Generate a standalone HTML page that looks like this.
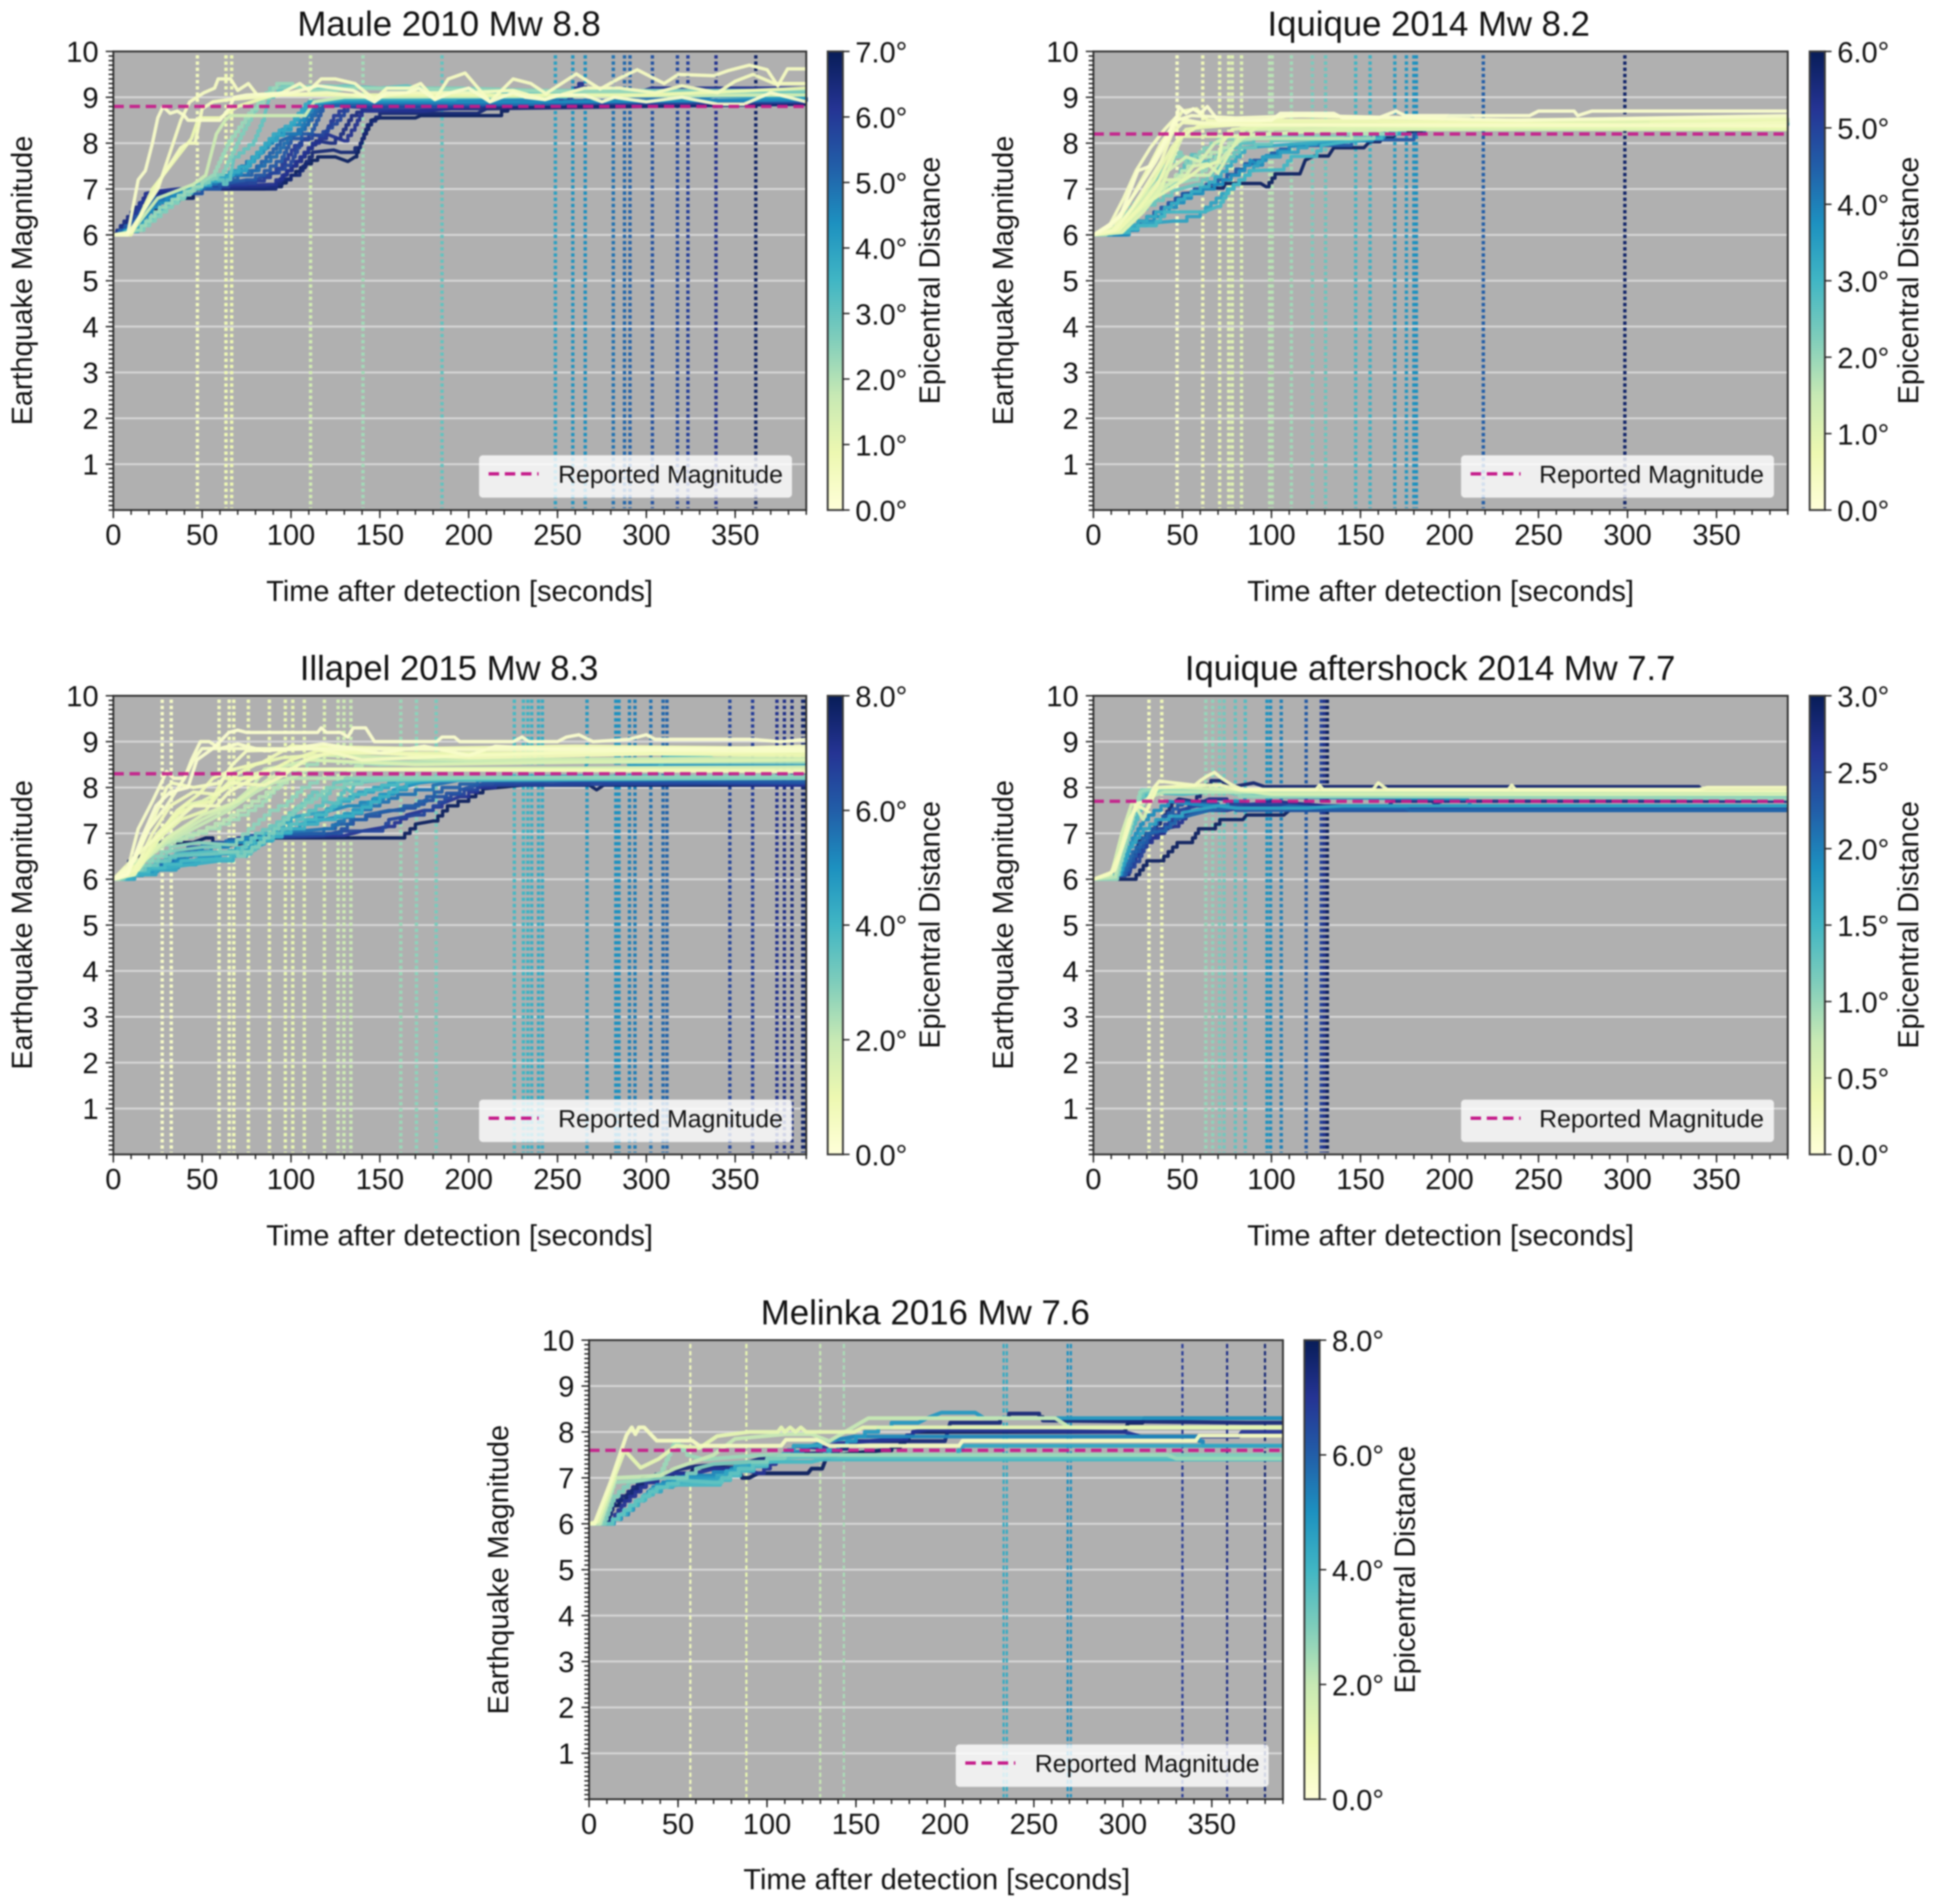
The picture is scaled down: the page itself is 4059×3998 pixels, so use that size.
<!DOCTYPE html>
<html lang="en">
<head>
<meta charset="utf-8">
<title>Earthquake magnitude estimates over time</title>
<style>
html,body{margin:0;padding:0;background:#fff;width:4059px;height:3998px;overflow:hidden}
svg{display:block;filter:blur(1.5px)}
text{font-family:"Liberation Sans",sans-serif;fill:#111}
.title{font-size:73px;text-anchor:middle}
.lab{font-size:61px;text-anchor:middle}
.tick{font-size:61px}
.leg{font-size:52px}
</style>
</head>
<body>
<svg xmlns="http://www.w3.org/2000/svg" width="4059" height="3998" viewBox="0 0 4059 3998">
<defs>
<linearGradient id="ylgnbu" x1="0" y1="1" x2="0" y2="0">
<stop offset="0" stop-color="#ffffd9"/><stop offset=".125" stop-color="#edf8b1"/><stop offset=".25" stop-color="#c7e9b4"/><stop offset=".375" stop-color="#7fcdbb"/><stop offset=".5" stop-color="#41b6c4"/><stop offset=".625" stop-color="#1d91c0"/><stop offset=".75" stop-color="#225ea8"/><stop offset=".875" stop-color="#253494"/><stop offset="1" stop-color="#081d58"/>
</linearGradient>
</defs>
<rect width="4059" height="3998" fill="#fff"/>

<g id="maule" transform="translate(238,108)">
<rect width="1455" height="963" fill="#b0b0b0"/>
<g class="marks"></g>
<rect x="768" y="848" width="657" height="89" rx="8" fill="#fff" fill-opacity=".8"/>
<line x1="788" x2="893" y1="887" y2="887" stroke="#c51b8a" stroke-width="7" stroke-dasharray="22 12"/>
<text class="leg" x="934" y="906" textLength="472" lengthAdjust="spacingAndGlyphs">Reported Magnitude</text>
<text class="title" x="705" y="-33" textLength="637" lengthAdjust="spacingAndGlyphs">Maule 2010 Mw 8.8</text>
<text class="lab" x="727" y="1154" textLength="812" lengthAdjust="spacingAndGlyphs">Time after detection [seconds]</text>
<text class="lab" transform="translate(-171,481) rotate(-90)" textLength="608" lengthAdjust="spacingAndGlyphs">Earthquake Magnitude</text>
<rect x="1500" y="0" width="32" height="963" fill="url(#ylgnbu)" stroke="#3a3a3a" stroke-width="4"/>
<text class="lab" transform="translate(1735,481) rotate(-90)" textLength="520" lengthAdjust="spacingAndGlyphs">Epicentral Distance</text>
</g>

<g id="iquique" transform="translate(2296,108)">
<rect width="1458" height="963" fill="#b0b0b0"/>
<g class="marks"></g>
<rect x="772" y="848" width="657" height="89" rx="8" fill="#fff" fill-opacity=".8"/>
<line x1="792" x2="897" y1="887" y2="887" stroke="#c51b8a" stroke-width="7" stroke-dasharray="22 12"/>
<text class="leg" x="936" y="906" textLength="472" lengthAdjust="spacingAndGlyphs">Reported Magnitude</text>
<text class="title" x="704" y="-33" textLength="677" lengthAdjust="spacingAndGlyphs">Iquique 2014 Mw 8.2</text>
<text class="lab" x="729" y="1154" textLength="812" lengthAdjust="spacingAndGlyphs">Time after detection [seconds]</text>
<text class="lab" transform="translate(-169,481) rotate(-90)" textLength="608" lengthAdjust="spacingAndGlyphs">Earthquake Magnitude</text>
<rect x="1504" y="0" width="32" height="963" fill="url(#ylgnbu)" stroke="#3a3a3a" stroke-width="4"/>
<text class="lab" transform="translate(1732,481) rotate(-90)" textLength="520" lengthAdjust="spacingAndGlyphs">Epicentral Distance</text>
</g>

<g id="illapel" transform="translate(238,1461)">
<rect width="1455" height="963" fill="#b0b0b0"/>
<g class="marks"></g>
<rect x="768" y="848" width="657" height="89" rx="8" fill="#fff" fill-opacity=".8"/>
<line x1="788" x2="893" y1="887" y2="887" stroke="#c51b8a" stroke-width="7" stroke-dasharray="22 12"/>
<text class="leg" x="934" y="906" textLength="472" lengthAdjust="spacingAndGlyphs">Reported Magnitude</text>
<text class="title" x="705" y="-33" textLength="627" lengthAdjust="spacingAndGlyphs">Illapel 2015 Mw 8.3</text>
<text class="lab" x="727" y="1154" textLength="812" lengthAdjust="spacingAndGlyphs">Time after detection [seconds]</text>
<text class="lab" transform="translate(-171,481) rotate(-90)" textLength="608" lengthAdjust="spacingAndGlyphs">Earthquake Magnitude</text>
<rect x="1500" y="0" width="32" height="963" fill="url(#ylgnbu)" stroke="#3a3a3a" stroke-width="4"/>
<text class="lab" transform="translate(1735,481) rotate(-90)" textLength="520" lengthAdjust="spacingAndGlyphs">Epicentral Distance</text>
</g>

<g id="aftershock" transform="translate(2296,1461)">
<rect width="1458" height="963" fill="#b0b0b0"/>
<g class="marks"></g>
<rect x="772" y="848" width="657" height="89" rx="8" fill="#fff" fill-opacity=".8"/>
<line x1="792" x2="897" y1="887" y2="887" stroke="#c51b8a" stroke-width="7" stroke-dasharray="22 12"/>
<text class="leg" x="936" y="906" textLength="472" lengthAdjust="spacingAndGlyphs">Reported Magnitude</text>
<text class="title" x="707" y="-33" textLength="1030" lengthAdjust="spacingAndGlyphs">Iquique aftershock 2014 Mw 7.7</text>
<text class="lab" x="729" y="1154" textLength="812" lengthAdjust="spacingAndGlyphs">Time after detection [seconds]</text>
<text class="lab" transform="translate(-169,481) rotate(-90)" textLength="608" lengthAdjust="spacingAndGlyphs">Earthquake Magnitude</text>
<rect x="1504" y="0" width="32" height="963" fill="url(#ylgnbu)" stroke="#3a3a3a" stroke-width="4"/>
<text class="lab" transform="translate(1732,481) rotate(-90)" textLength="520" lengthAdjust="spacingAndGlyphs">Epicentral Distance</text>
</g>

<g id="melinka" transform="translate(1237,2814)">
<rect width="1457" height="964" fill="#b0b0b0"/>
<g class="marks"></g>
<rect x="770" y="849" width="657" height="89" rx="8" fill="#fff" fill-opacity=".8"/>
<line x1="790" x2="895" y1="888" y2="888" stroke="#c51b8a" stroke-width="7" stroke-dasharray="22 12"/>
<text class="leg" x="936" y="907" textLength="472" lengthAdjust="spacingAndGlyphs">Reported Magnitude</text>
<text class="title" x="706" y="-33" textLength="691" lengthAdjust="spacingAndGlyphs">Melinka 2016 Mw 7.6</text>
<text class="lab" x="730" y="1153" textLength="812" lengthAdjust="spacingAndGlyphs">Time after detection [seconds]</text>
<text class="lab" transform="translate(-170,482) rotate(-90)" textLength="608" lengthAdjust="spacingAndGlyphs">Earthquake Magnitude</text>
<rect x="1502" y="0" width="32" height="964" fill="url(#ylgnbu)" stroke="#3a3a3a" stroke-width="4"/>
<text class="lab" transform="translate(1734,482) rotate(-90)" textLength="520" lengthAdjust="spacingAndGlyphs">Epicentral Distance</text>
</g>
</svg>

<script>
const xTickValues = [0,50,100,150,200,250,300,350];
const yTickValues = [1,2,3,4,5,6,7,8,9,10];

const mauleReported = 8.8;
const mauleMaxDist = 7;
const mauleCbarTicks = [0,1,2,3,4,5,6,7];
const mauleStationTimes = [47.3,63.4,66.6,111,140.5,185,248.8,258.6,265.6,281.4,287.7,290.8,303.4,317.5,323.4,339.2,361.6];
const mauleStationDist = [0.6,0.8,0.85,1.5,2.2,3.0,4.0,4.3,4.4,4.9,5.1,5.2,5.5,5.7,5.9,6.2,6.8];
const mauleCurveDist = [6.9,6.6,6.2,5.8,5.4,5,4.5,4,3,2.3,1.6,0.35,0.5,0.6,6.4,6,5.2,4.8,3.8,2.6,0.9];
const mauleCurves = [
[0,6,5,6.1,10,6.3,18,6.5,30,6.7,40,6.8,50,7,85,7,92,7.05,100,7.3,108,7.55,115,7.7,125,7.7,132,7.6,136,7.7,140,8.1,145,8.5,150,8.55,170,8.55,173,8.6,215,8.6,222,8.8,390,8.85],
[0,6,5,6.2,10,6.4,16,6.5,22,6.9,36,6.9,50,7,88,7,95,7.2,105,7.4,112,7.8,124,7.85,128,7.8,133,7.8,139,8,143,8.4,150,8.65,205,8.65,210,8.75,390,8.85],
[0,6,8,6.2,13,6.5,18,6.9,24,6.95,36,7,55,7.05,88,7.1,95,7.3,105,7.7,112,8,120,8.2,130,8.05,136,8.4,140,8.7,175,8.7,200,8.8,240,8.85,256,9,262,9.3,268,9.05,295,9.1,303,9.2,390,9.2],
[0,6,10,6.2,16,6.6,22,6.8,32,6.9,50,7.05,80,7.2,90,7.35,100,7.6,106,8.1,118,8.25,126,8.5,132,8.8,150,8.75,230,8.85,390,8.9],
[0,6,10,6.3,15,6.5,24,6.8,40,6.9,60,7.1,75,7.2,85,7.4,95,7.7,100,8.1,112,8.3,118,8.8,140,8.85,200,8.85,390,8.95],
[0,6,12,6.2,20,6.7,35,6.95,55,7.15,70,7.3,82,7.5,92,7.8,100,8.2,108,8.4,115,8.85,130,8.9,230,8.85,250,9,270,9.05,300,9,330,8.95,340,9.05,390,9],
[0,6,13,6.2,22,6.6,38,7,60,7.25,72,7.4,82,7.8,95,8.3,105,8.5,112,8.85,125,8.9,250,8.9,390,8.95],
[0,6,14,6.2,25,6.5,42,7,60,7.3,75,7.5,88,8.05,100,8.4,110,8.9,130,8.95,190,8.95,195,9.1,270,9.05,390,9],
[0,6,13,6.1,25,6.5,44,7,56,7.3,62,7.1,66,7.3,68,7.7,79,8.05,85,8.6,88,9,95,9.25,115,9.2,130,9.25,150,9.2,165,9.25,180,9.15,300,9.1,390,9.1],
[0,6,13,6.1,26,6.6,40,6.95,50,7.15,56,7.3,65,8.05,78,8.75,88,9.1,92,9.3,110,9.15,125,9.15,135,9.2,390,9.05],
[0,6,10,6.05,25,6.8,45,7.1,52,7.3,58,8.2,63,8.5,66,8.6,78,8.6,85,8.6,108,8.6,113,8.9,130,9,390,9.05],
[0,6,8,6,12,6.8,14,7.2,18,7.4,22,8,25,8.55,28,8.8,32,8.65,36,8.7,40,8.6,42,8.5,60,8.5,65,8.75,68,9,75,9.05,100,9.1,110,9.2,115,9.25,125,9.2,135,9.15,147,8.9,154,9.1,165,9.1,172,9.2,181,8.95,190,9.1,200,9.2,212,8.9,225,9.1,232,9,243,8.95,250,9.05,265,9.05,275,8.9,282,9,300,8.9,320,9,340,8.85,355,8.85,370,9.1,390,8.9],
[0,6,8,6,25,7,38,8.5,43,8.9,51,9.1,57,9.2,59,9.4,66,9.4,70,9.15,76,9.3,81,9.05,88,9.05,95,9.1,105,9.3,110,9.15,117,9.4,125,9.4,136,9.3,147,8.95,154,9.2,167,9.2,173,9.3,181,8.95,188.5,9.4,198,9.53,212,8.9,225,9.4,235,9.3,243.5,9.08,260.6,9.51,274,9.18,284.6,9.41,294.9,9.6,310,9.3,318,9.5,338,9.47,346,9.58,358,9.7,368,9.6,374,9.25,379.5,9.62,390,9.62],
[0,6,10,6.05,28,7.3,38,7.9,42,8,46,8,50,8.75,56,8.9,65,8.95,80,9,95,9.05,120,9.1,147,9,165,9.1,200,9.1,225,9.15,243,8.95,265,9.2,285,9.2,305,9.1,320,9.25,340,9.1,350,9.35,360,9.5,372,9.3,390,9.3],
[0,6,6,6.3,12,6.6,20,6.9,34,6.95,48,7,90,7.05,98,7.4,106,7.7,114,8.05,122,8,128,8.2,134,8.6,140,8.75,170,8.7,190,8.75,230,8.9,390,8.9],
[0,6,9,6.25,15,6.7,25,6.85,40,7,65,7.1,85,7.25,95,7.55,102,7.95,110,8.2,118,8.15,124,8.6,130,8.8,390,8.95],
[0,6,12,6.3,22,6.8,40,7,62,7.2,78,7.4,86,7.7,94,8.05,104,8.2,112,8.6,118,8.85,390,9],
[0,6,12,6.2,24,6.75,38,6.95,58,7.2,72,7.5,84,7.9,92,8.2,104,8.2,110,8.7,114,8.9,240,8.95,250,9.15,300,9.1,390,9],
[0,6,14,6.15,26,6.55,44,7,60,7.25,76,7.6,90,8.2,100,8.45,108,8.85,130,8.95,240,9,270,9.15,330,9.1,390,9.05],
[0,6,14,6.1,30,6.6,46,7.05,62,7.4,72,8.2,82,8.9,88,9.2,120,9.25,140,9.2,195,9.2,240,9.15,390,9.15],
[0,6,10,6,22,7,34,7.6,44,8.1,48,8.55,60,8.55,70,8.8,90,9.05,300,9.05,390,9.2]
];

const iquiqueReported = 8.2;
const iquiqueMaxDist = 6;
const iquiqueCbarTicks = [0,1,2,3,4,5,6];
const iquiqueStationTimes = [47,61.4,70.9,76,78,83.2,99,100.4,111.2,123,130.4,147.3,155.4,169.3,175.8,180,181.4,219,298.5];
const iquiqueStationDist = [0.4,0.6,0.8,0.95,1,1.05,1.6,1.65,1.9,2.3,2.5,3,3.1,3.5,3.6,3.7,3.75,4.5,5.8];
const iquiqueCurveDist = [5.9,4.6,3.8,3.4,3,2.7,2.2,1.3,1.1,1,0.9,0.7,0.5,0.3,0.2,0.6,0.4,0.8,1.2,1.6,2,2.5,3.2];
const iquiqueCurves = [
[0,6,12,6,25,6.3,40,6.6,50,6.9,60,6.92,62,7.02,73,7.02,74,7.12,94,7.12,97,7.05,102,7.33,116,7.33,119,7.63,124,7.72,132,7.72,135,7.9,152,7.9,155,8.03,161,8.03,162,8.13,168,8.13,171,8.25,200,8.4,390,8.4],
[0,6,15,6,30,6.4,50,6.9,70,7.2,85,7.55,95,7.7,110,7.95,180,8.2,198,8.5,200,8.6,212,8.6,214,8.5,390,8.45],
[0,6,15,6,30,6.3,55,6.9,68,7.1,82,7.4,88,7.63,93,7.52,97,7.73,110,7.93,150,8.05,170,8.3,390,8.45],
[0,6,20,6.15,30,6.25,45,6.3,60,6.5,72,6.9,85,7.3,95,7.7,115,7.9,125,8.05,150,8.1,175,8.3,235,8.35,245,8.45,390,8.45],
[0,6,15,6.05,25,6.2,33,6.2,40,6.5,62,6.5,70,6.62,76,7,88,7.4,105,7.42,111,7.71,123,7.71,128,7.95,142,8.03,155,8.1,175,8.35,390,8.5],
[0,6,15,6.2,30,6.7,45,7.2,55,7.75,60,7.6,75,7.9,90,8.1,145,8.12,160,8.3,390,8.5],
[0,6,10,6.1,25,6.8,40,7.5,48,7.8,52,7.55,62,7.9,70,8.1,120,8.15,160,8.3,390,8.35],
[0,6,16,6.1,35,6.9,50,7.3,65,7.3,75,7.8,85,8.15,150,8.35,390,8.4],
[0,6,15,6.2,32,6.8,40,7.2,50,7.2,56,7.5,64,7.55,70,7.35,78,7.9,85,8.3,200,8.35,390,8.3],
[0,6,16,6.05,28,6.5,38,7,46,7.8,50,8.15,85,8.15,92,8.35,130,8.4,390,8.35],
[0,6,14,6.1,30,6.7,45,7.05,55,7.3,60,7.45,70,7.6,72,8,78,8.3,100,8.4,390,8.3],
[0,6,14,6.1,26,6.6,36,7.1,42,7.6,48,8.1,60,8.4,100,8.5,150,8.5,200,8.45,390,8.35],
[0,6,12,6.1,22,6.6,30,7.1,38,7.6,44,8.2,50,8.45,70,8.4,300,8.4,390,8.45],
[0,6,10,6.2,18,6.6,25,7,35,7.6,42,8.1,47,8.5,55,8.6,80,8.55,120,8.6,240,8.5,390,8.6],
[0,6,8,6.2,15,6.4,20,6.9,25,7.4,32,7.5,38,7.9,42,8.2,47,8.6,48,8.8,52,8.65,56,8.75,60,8.65,64,8.8,70,8.5,100,8.5,105,8.65,135,8.65,140,8.55,160,8.55,170,8.7,175,8.6,245,8.6,250,8.7,270,8.7,272,8.6,280,8.7,390,8.7],
[0,6,11,6.1,20,6.7,30,7.4,38,8,45,8.4,50,8.7,58,8.75,64,8.5,90,8.45,110,8.6,170,8.55,210,8.5,390,8.55],
[0,6,9,6.2,17,6.8,24,7.4,32,7.9,40,8.3,46,8.55,60,8.45,85,8.4,390,8.38],
[0,6,13,6.1,24,6.7,34,7.2,44,7.9,52,8.3,62,8.35,100,8.45,240,8.45,390,8.5],
[0,6,14,6.1,28,6.8,42,7.4,52,7.7,60,7.6,68,8,76,8.15,120,8.25,180,8.3,390,8.3],
[0,6,15,6.1,30,6.8,46,7.3,60,7.7,72,7.9,80,8.1,130,8.1,160,8.3,390,8.55],
[0,6,14,6.2,30,6.8,44,7.1,56,7.2,66,7.6,76,8,90,8.1,150,8.1,165,8.3,390,8.4],
[0,6,15,6.1,30,6.65,44,6.95,58,7.1,70,7.5,82,7.9,100,8.05,140,8.1,170,8.3,240,8.4,245,8.5,390,8.55],
[0,6,15,6.05,25,6.3,40,6.6,55,6.95,65,7.15,75,7.5,85,7.9,120,8,140,8.1,170,8.3,390,8.45]
];

const illapelReported = 8.3;
const illapelMaxDist = 8;
const illapelCbarTicks = [0,2,4,6,8];
const illapelStationTimes = [27.5,32.6,59.5,65.2,67.8,76,87.8,96.8,101,107.5,118.8,126.5,129.8,133.7,161.8,170.6,181.7,225.7,230.8,233.3,235.5,239.3,241.5,266.6,282.8,284.6,290.5,293.6,302.5,309.4,311.6,347,359.8,373.5,377.7,382,388,389.3];
const illapelStationDist = [0.4,0.45,0.7,0.75,0.8,0.9,1,1.1,1.1,1.2,1.4,1.7,1.8,1.9,2.6,2.8,3.1,3.9,4,4.1,4.2,4.3,4.3,4.8,5,5,5.3,5.4,5.6,5.8,5.9,6.6,6.8,7.1,7.2,7.3,7.6,7.7];
const illapelCurveDist = [7.9,7,6.3,5.6,4.8,4.2,3.6,3,2.5,2,1.5,1.2,1,0.8,0.7,0.6,0.45,0.4,0.3,6.6,6,5.2,4.5,3.9,3.3,2.8,2.2,1.8,1.1,0.9];
const illapelCurves = [
[0,6,5,6.1,10,6.5,15,6.5,22,6.8,45,6.8,52,6.9,60,6.7,75,6.8,90,6.9,148,6.9,161,6.9,170,7.2,180,7.27,188,7.6,200,7.8,208,7.97,231,8.05,268,8.05,272,7.95,276,8.05,390,8.05],
[0,6,15,6.2,40,6.6,70,6.9,130,6.95,140,7.05,155,7.15,165,7.4,175,7.5,185,7.65,195,7.8,205,8,225,8.15,390,8.05],
[0,6,20,6.3,45,6.7,75,6.95,125,7,135,7.3,150,7.45,165,7.55,180,7.8,195,7.95,210,8.1,260,8.15,390,8.1],
[0,6,22,6.3,50,6.75,90,7,120,7.1,130,7.35,145,7.6,160,7.85,180,8.05,200,8.2,390,8.2],
[0,6,25,6.25,60,6.6,78,6.75,95,7,105,7.2,125,7.35,140,7.6,150,7.85,165,8.05,185,8.2,265,8.25,268,8.85,285,8.85,290,8.5,390,8.5],
[0,6,20,6.2,40,6.3,60,6.4,75,6.6,85,6.85,100,7.1,115,7.3,135,7.45,150,7.8,165,8.1,180,8.2,305,8.25,310,8.7,335,8.7,340,8.55,345,8.6,375,8.6,390,8.55],
[0,6,18,6.3,35,6.55,55,6.6,75,6.55,85,6.9,100,7.2,110,7.5,118,7.7,125,7.65,130,8,134,7.9,136,8.1,160,8.2,390,8.2],
[0,6,16,6.3,30,6.6,50,6.7,70,6.5,82,6.8,96,7.3,104,7.6,112,7.75,120,8,140,8.15,200,8.2,390,8.2],
[0,6,12,6.4,25,6.75,45,7,60,7.2,76,7.5,84,7.7,95,8.15,100,8.2,103,8.4,115,8.6,150,8.5,200,8.55,390,8.55],
[0,6,14,6.3,30,6.8,50,7.2,65,7.5,80,7.9,90,8.1,100,8.2,110,8.4,390,8.45],
[0,6,15,6.3,30,6.9,50,7.4,70,7.7,88,8.2,110,8.6,170,8.5,260,8.55,390,8.6],
[0,6,14,6.2,28,7,40,7.6,50,7.7,60,7.9,75,8.25,90,8.4,390,8.4],
[0,6,13,6.3,25,7,35,7.4,45,7.6,55,7.7,62,8.2,80,8.2,90,8.4,100,8.6,115,8.8,180,8.7,250,8.75,390,8.7],
[0,6,12,6.2,22,7,32,7.6,45,7.9,58,7.85,66,8.1,85,8.05,95,8.25,108,8.6,125,8.8,200,8.65,390,8.8],
[0,6,15,6.6,30,7.1,45,7.6,58,7.6,65,7.9,88,8.4,390,8.35],
[0,6,12,6.4,20,7.1,27,7.7,30,8,33,8.1,45,8,60,8.1,67,8.5,75,8.8,115,8.85,125,8.75,140,8.6,200,8.7,390,8.9],
[0,6,10,6.3,20,7.1,30,7.6,40,8.2,45,8.6,50,8.85,60,8.85,390,8.8],
[0,6,8,6.2,14,7.1,22,7.7,27,8.1,30,8.35,34,8.2,40,8.2,44,8.6,49,9,54,9,60,8.85,70,8.95,85,8.8,100,8.85,118,8.95,135,8.85,150,8.75,175,8.9,200,8.7,215,8.9,240,8.85,390,8.85],
[0,6,8,6.1,16,6.9,24,7.6,32,7.9,42,8,47,8.6,56,8.85,60,9,65,9.2,70,9.25,75,9.2,115,9.2,117,9.3,120,9.2,128,9.2,132,9.1,135,9.3,142,9.3,147,9,182,9,185,9.1,192,9.1,195,9,225,9,230,9.1,234,9,250,9,255,9.1,262,9.15,270,9,290,9.05,300,9.15,305,9.05,360,9.05,375,9,390,9.05],
[0,6,18,6.3,42,6.7,72,6.9,118,6.95,128,7.05,150,7.05,155,7.3,170,7.4,180,7.6,190,7.85,205,8.05,390,8.1],
[0,6,20,6.2,50,6.7,80,6.95,112,7,125,7.2,142,7.4,155,7.5,172,7.7,185,8,205,8.15,390,8.15],
[0,6,22,6.25,55,6.7,84,7,105,7.2,118,7.45,132,7.6,146,7.75,158,7.95,172,8.1,195,8.2,390,8.2],
[0,6,24,6.2,58,6.55,72,6.7,88,7,100,7.35,116,7.45,128,7.7,138,7.9,155,8.1,175,8.2,390,8.25],
[0,6,20,6.25,38,6.4,62,6.45,74,6.8,90,7.1,108,7.3,120,7.5,128,7.75,142,7.95,160,8.15,390,8.2],
[0,6,18,6.3,32,6.5,56,6.55,70,6.6,80,7,92,7.25,106,7.65,112,7.9,118,7.75,124,8.1,140,8.2,390,8.2],
[0,6,17,6.4,32,6.7,48,6.8,66,6.75,76,7.1,88,7.5,98,7.7,106,8,115,8.2,390,8.25],
[0,6,13,6.4,28,6.8,48,7.05,62,7.3,74,7.6,86,7.9,98,8.2,125,8.2,140,8.55,390,8.6],
[0,6,14,6.35,30,6.85,50,7.3,66,7.6,78,8,85,8.4,100,8.5,118,8.7,200,8.6,390,8.65],
[0,6,13,6.2,26,6.9,38,7.3,52,7.5,62,8,70,8.3,80,8.5,95,8.65,130,8.75,390,8.75],
[0,6,12,6.1,24,6.9,36,7.5,48,7.85,56,8.2,68,8.4,84,8.55,100,8.9,170,8.85,260,8.9,390,8.85]
];

const aftershockReported = 7.7;
const aftershockMaxDist = 3;
const aftershockCbarTicks = [0,0.5,1,1.5,2,2.5,3];
const aftershockStationTimes = [31.2,38.4,63.1,67,70.8,73.4,79.7,85.3,97.5,99.5,105.5,119.5,128,129.7,131.4];
const aftershockStationDist = [0.25,0.3,1,1.05,1.15,1.2,1.3,1.4,1.85,1.9,2,2.3,2.5,2.7,2.95];
const aftershockCurveDist = [2.95,2.85,2.7,2.2,1.7,1.4,1.2,1,0.6,0.3,0.25,2.5,2.3,1.9,1.5,1.1,0.8,2.65];
const aftershockCurves = [
[0,6,15,6,22,6,30,6.4,37,6.4,42,6.6,47,6.8,54,6.8,59,7.1,66,7.1,71,7.3,84,7.3,86,7.4,107,7.4,110,7.5,390,7.5],
[0,6,20,6.2,26,6.9,33,7.1,40,7.4,44,7.65,48,7.75,56,7.7,60,7.9,66,8.15,70,8.15,76,8,90,8.1,96,8.02,340,8.02,342,7.95,390,7.95],
[0,6,18,6.1,28,6.8,35,7,42,7.2,50,7.35,55,7.7,62,7.7,65,7.75,85,7.6,100,7.7,130,7.6,166,7.6,168,7.7,190,7.7,192,7.65,196,7.7,390,7.7],
[0,6,16,6.1,22,6.6,30,7,38,7.05,46,7.3,55,7.4,65,7.5,80,7.55,105,7.55,110,7.6,130,7.55,175,7.55,178,7.5,390,7.5],
[0,6,14,6.1,20,6.7,28,7.1,35,7.3,50,7.45,70,7.6,80,7.55,120,7.55,140,7.6,390,7.6],
[0,6,13,6.1,20,7,25,7.4,30,7.9,50,7.85,65,7.9,76,7.9,85,7.85,100,7.85,130,7.85,210,7.8,212,7.85,390,7.8],
[0,6,13,6,18,6.9,24,7.6,28,7.9,55,7.9,70,7.95,80,7.85,140,7.85,210,7.8,390,7.8],
[0,6,12,6,16,6.5,21,7.2,26,7.9,30,7.95,78,7.95,82,7.8,210,7.8,390,7.75],
[0,6,10,6.1,16,7,22,7.7,28,7.3,32,7.7,36,8,50,8,80,7.95,100,7.85,390,7.85],
[0,6,10,6.15,15,6.6,20,7.3,25,7.6,30,7.5,36,8,60,8.05,72,8.05,82,7.95,390,7.93],
[0,6,8,6.1,12,6.2,18,6.9,24,7.65,30,7.7,34,8,37,8.14,57,8.05,60,8.15,64,8.25,68,8.33,72,8.2,78,8.05,84,7.96,125,7.96,127,8.05,129,7.96,157,7.96,160,8.1,165,7.96,233,7.96,235,8.05,237,7.96,340,7.96,345,8,390,8],
[0,6,18,6.15,26,6.5,32,7,40,7.2,48,7.5,58,7.6,75,7.6,95,7.65,130,7.55,390,7.55],
[0,6,17,6.1,24,6.6,30,6.9,36,7.3,42,7.45,50,7.7,60,7.65,80,7.5,140,7.5,390,7.5],
[0,6,15,6.1,22,6.9,28,7.3,34,7.5,42,7.7,52,7.65,66,7.6,85,7.8,210,7.75,212,7.6,390,7.6],
[0,6,14,6.1,19,6.9,25,7.6,28,7.8,32,7.9,85,7.9,100,7.8,212,7.8,390,7.8],
[0,6,13,6,17,6.7,23,7.5,27,7.95,80,7.9,90,7.8,390,7.82],
[0,6,12,6.05,16,6.8,20,7.4,24,7.55,28,7.7,32,7.8,40,7.9,100,7.9,390,7.9],
[0,6,19,6.2,27,6.7,33,6.9,40,7.1,46,7.15,52,7.4,60,7.5,75,7.5,88,7.6,137,7.6,390,7.6]
];

const melinkaReported = 7.6;
const melinkaMaxDist = 8;
const melinkaCbarTicks = [0,2,4,6,8];
const melinkaStationTimes = [56.9,88.4,129.9,143.2,233,234.8,269,270.8,333.5,358.6,379.9];
const melinkaStationDist = [0.7,1.1,2,2.4,4.3,4.3,5,5,6.9,7.2,7.5];
const melinkaCurveDist = [7.9,7.5,7,5.2,4.8,4.4,3.9,3.5,2.6,2,1.2,0.6,3];
const melinkaCurves = [
[0,6,10,6,13,6.4,21,6.62,30,6.93,47,7.1,57,7.1,59,7.22,84,7.22,86,7,90,7,95,7.1,123,7.1,125,7.2,131,7.2,133,7.4,140,7.5,165,7.6,175,7.75,182,8,301,8,303,8.2,311,8.2,312,8.3,390,8.3],
[0,6,10,6,14,6.5,22,6.7,30,7,45,7.15,60,7.25,75,7.3,90,7.35,100,7.45,110,7.5,135,7.55,150,7.8,200,7.8,203,8.2,226,8.2,236,8.4,251,8.4,255,8.25,370,8.2,390,8.2],
[0,6,11,6,20,6.5,32,6.9,45,7.1,60,7.1,70,7.2,85,7.2,95,7.1,105,7.4,115,7.7,130,7.65,140,7.75,175,7.85,182,8,190,8.05,301,8,310,7.9,365,7.9,367,8,390,8],
[0,6,10,6,22,6.3,36,6.8,47,7,60,7.05,80,7.2,100,7.4,120,7.65,135,7.8,149,7.9,341,7.9,345,7.7,390,7.7],
[0,6,10,6,24,6.4,38,6.85,50,7,70,7,90,7.3,110,7.5,125,7.5,140,7.7,155,8,170,8.2,185,8.2,190,8.3,198,8.42,217,8.42,222,8.3,390,8.3],
[0,6,10,6,21,6.3,34,6.7,47,6.9,67,6.95,82,7.25,103,7.35,115,7.7,125,7.7,135,7.5,205,7.5,210,7.7,390,7.7],
[0,6,10,6,23,6.4,36,6.75,50,6.85,68,6.85,85,7.15,100,7.35,125,7.35,131,7.4,390,7.4],
[0,6,10,6,26,6.5,38,6.8,50,6.95,70,6.9,84,7.2,100,7.4,118,7.45,131,7.45,390,7.45],
[0,6,6,6,14,6.9,30,6.95,40,7.1,48,7.8,55,7.5,65,7.4,80,7.45,100,7.5,325,7.5,330,7.42,390,7.42],
[0,6,6,6,15,7,40,7.05,48,7.2,70,7.5,82,7.85,110,7.95,125,7.95,135,7.8,157,8.3,262,8.3,270,8.1,390,8.1],
[0,6,5,6.05,15,7.1,20,7.6,29,7.22,39,7.41,49,7.7,62,7.65,72,7.91,90,8,106,8,108,8.1,110,8,113,8.1,116,8,119,8.1,122,8,149,8,154,8.1,390,8.1],
[0,6,3,6,12,6.9,21,7.93,24,8.1,26,7.95,28,8.1,31,8.1,38,7.81,58,7.81,62,7.7,108,7.7,110.6,7.83,128,7.83,135,7.7,208,7.7,210,7.81,341,7.81,343,7.92,390,7.92],
[0,6,8,6,14,6.6,22,6.9,40,7,50,7,60,7.2,70,7.3,90,7.35,110,7.5,390,7.5]
];

const stops = [[255,255,217],[237,248,177],[199,233,180],[127,205,187],[65,182,196],[29,145,192],[34,94,168],[37,52,148],[8,29,88]];
const SVGNS = 'http://www.w3.org/2000/svg';
const XMAX = 390;
const YMAX = 10;

function colorFor(frac) {
  const p = Math.max(0, Math.min(1, frac)) * (stops.length - 1);
  const i = Math.min(stops.length - 2, Math.floor(p));
  const f = p - i;
  const c = stops[i].map((v, k) => Math.round(v + (stops[i + 1][k] - v) * f));
  return 'rgb(' + c.join(',') + ')';
}

function make(parent, tag, attrs, text) {
  const e = document.createElementNS(SVGNS, tag);
  for (const k in attrs) e.setAttribute(k, attrs[k]);
  if (text !== undefined) e.textContent = text;
  parent.appendChild(e);
  return e;
}

/* Magnitude estimates update in 0.1 increments, so rising stretches are drawn as stairs. */
function stairPoints(c, stepped, x, y) {
  const pts = [];
  for (let k = 0; k < c.length; k += 2) {
    if (stepped && k > 0) {
      const t0 = c[k - 2], m0 = c[k - 1], t1 = c[k], m1 = c[k + 1];
      const n = Math.round(Math.abs(m1 - m0) / 0.1);
      if (n > 1 && t1 - t0 > 3) {
        for (let s = 1; s < n; s++) {
          const ts = t0 + (t1 - t0) * s / n;
          pts.push(x(ts).toFixed(1) + ',' + y(m0 + (m1 - m0) * (s - 1) / n).toFixed(1));
          pts.push(x(ts).toFixed(1) + ',' + y(m0 + (m1 - m0) * s / n).toFixed(1));
        }
        pts.push(x(t1).toFixed(1) + ',' + y(m0 + (m1 - m0) * (n - 1) / n).toFixed(1));
      }
    }
    pts.push(x(c[k]).toFixed(1) + ',' + y(c[k + 1]).toFixed(1));
  }
  return pts.join(' ');
}

function drawPanel(id, W, H, opts, stationTimes, stationDist, curveDist, curves, reported, maxDist, cbarTicks) {
  const root = document.getElementById(id);
  const marks = root.querySelector('.marks');
  const x = t => t / XMAX * W;
  const y = m => H - m / YMAX * H;

  yTickValues.slice(0, 9).forEach(v => {
    const g = make(marks, 'line', {x1: 0, x2: W, y1: y(v), y2: y(v), stroke: '#fff', 'stroke-opacity': .5, 'stroke-width': 4});
    
    
  });

  stationTimes.forEach((t, i) => {
    const v = make(marks, 'line', {x1: x(t), x2: x(t), y1: 8, y2: H - 4, stroke: colorFor(stationDist[i] / maxDist), 'stroke-width': opts.dotWidth, 'stroke-dasharray': opts.dotDash});
    
    
  });

  const order = curves.map((c, i) => i).sort((a, b) => curveDist[b] - curveDist[a]);
  order.forEach(i => {
    const stepped = curveDist[i] / maxDist > 0.25;
    const p = make(marks, 'polyline', {points: stairPoints(curves[i], stepped, x, y), fill: 'none', stroke: colorFor(curveDist[i] / maxDist), 'stroke-width': opts.lineWidth, 'stroke-linejoin': 'round', 'stroke-opacity': .95});
    
    
  });

  const r = make(marks, 'line', {x1: 0, x2: W, y1: y(reported), y2: y(reported), stroke: '#c51b8a', 'stroke-width': 7, 'stroke-dasharray': '22 12', 'stroke-opacity': .92});
  
  

  const spine = make(root, 'rect', {x: 0, y: 0, width: W, height: H, fill: 'none', stroke: '#333', 'stroke-width': 4});
  
  

  let minorX = '';
  for (let t = 0; t <= XMAX; t += 10) minorX += 'M' + x(t) + ' ' + H + 'v10';
  const mx = make(root, 'path', {d: minorX, stroke: '#222', 'stroke-width': 3, fill: 'none'});
  
  

  let minorY = '';
  for (let n = 0; n <= 100; n++) minorY += 'M0 ' + y(n / 10).toFixed(1) + 'h-10';
  const my = make(root, 'path', {d: minorY, stroke: '#222', 'stroke-width': 3, fill: 'none'});
  
  

  xTickValues.forEach(v => {
    const tk = make(root, 'line', {x1: x(v), x2: x(v), y1: H, y2: H + 17, stroke: '#222', 'stroke-width': 3});
    
    
    const lb = make(root, 'text', {class: 'tick', x: x(v), y: H + 73, 'text-anchor': 'middle'}, String(v));
    
    
  });

  yTickValues.forEach(v => {
    const tk = make(root, 'line', {x1: 0, x2: -16, y1: y(v), y2: y(v), stroke: '#222', 'stroke-width': 3});
    
    
    const lb = make(root, 'text', {class: 'tick', x: -31, y: y(v) + 22, 'text-anchor': 'end'}, String(v));
    
    
  });

  const cx = opts.cbarRight;
  cbarTicks.forEach(d => {
    const py = H - d / maxDist * H;
    const tk = make(root, 'line', {x1: cx, x2: cx + 14, y1: py, y2: py, stroke: '#222', 'stroke-width': 3});
    
    
    const lb = make(root, 'text', {class: 'tick', x: cx + 26, y: py + 23}, d.toFixed(1) + '\u00b0');
    
    
  });
}

drawPanel('maule', 1455, 963, {dotWidth: 7, dotDash: '7 6', lineWidth: 7, cbarRight: 1532}, mauleStationTimes, mauleStationDist, mauleCurveDist, mauleCurves, mauleReported, mauleMaxDist, mauleCbarTicks);
drawPanel('iquique', 1458, 963, {dotWidth: 7, dotDash: '7 6', lineWidth: 7, cbarRight: 1536}, iquiqueStationTimes, iquiqueStationDist, iquiqueCurveDist, iquiqueCurves, iquiqueReported, iquiqueMaxDist, iquiqueCbarTicks);
drawPanel('illapel', 1455, 963, {dotWidth: 7, dotDash: '7 6', lineWidth: 7, cbarRight: 1532}, illapelStationTimes, illapelStationDist, illapelCurveDist, illapelCurves, illapelReported, illapelMaxDist, illapelCbarTicks);
drawPanel('aftershock', 1458, 963, {dotWidth: 7, dotDash: '7 6', lineWidth: 7, cbarRight: 1536}, aftershockStationTimes, aftershockStationDist, aftershockCurveDist, aftershockCurves, aftershockReported, aftershockMaxDist, aftershockCbarTicks);
drawPanel('melinka', 1457, 964, {dotWidth: 4.5, dotDash: '9 6', lineWidth: 8, cbarRight: 1534}, melinkaStationTimes, melinkaStationDist, melinkaCurveDist, melinkaCurves, melinkaReported, melinkaMaxDist, melinkaCbarTicks);
</script>
</body>
</html>
